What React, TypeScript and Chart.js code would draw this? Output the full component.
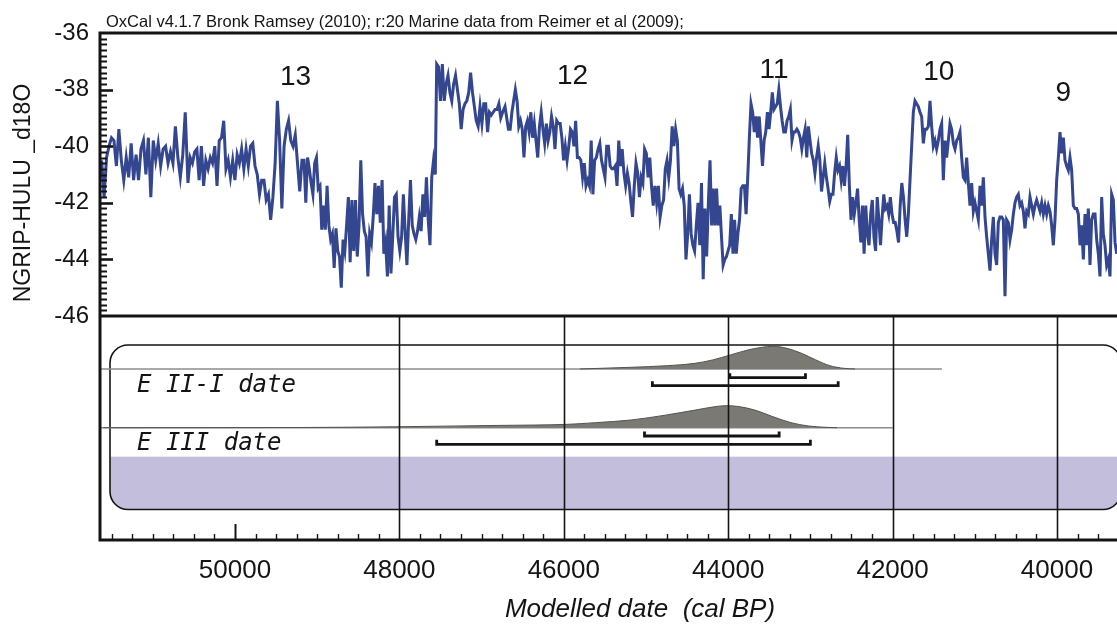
import React, { useEffect, useRef } from 'react';
import { Chart, registerables } from 'chart.js';

Chart.register(...registerables);

// ---------------- data ----------------
const X_MAX_YEAR = 51642;
const X_MIN_YEAR = 39270;
const xTickYears = [50000, 48000, 46000, 44000, 42000, 40000];
const yTickValues = [-36, -38, -40, -42, -44, -46];

// NGRIP-HULU d18O record, in consecutive pieces
const spanA1 = [51622, 50605];
const d18oA1 = [-40.5, -41.8, -40.4, -40.0, -39.7, -39.8, -40.7, -39.4, -40.5, -41.2, -40.4, -41.1, -39.9, -41.2, -40.3, -41.2, -40.1, -39.8, -41.0, -39.7, -41.8, -39.8, -40.5, -39.9, -40.7, -40.1, -40.0, -40.6, -40.2, -40.6, -39.3, -40.4, -41.1, -40.3, -38.8];
const spanA2 = [50572, 49185];
const d18oA2 = [-41.3, -40.4, -40.6, -40.2, -40.1, -41.2, -40.0, -41.4, -40.5, -40.8, -40.4, -40.6, -40.0, -41.4, -39.8, -39.7, -39.1, -40.8, -40.5, -41.1, -40.5, -41.2, -40.3, -40.6, -40.1, -40.8, -40.1, -40.7, -40.0, -39.9, -40.7, -41.0, -41.7, -41.2, -41.2, -41.9, -41.7, -42.6, -41.8, -40.6, -38.4, -39.8, -42.2, -40.0, -39.4, -39.1, -39.8, -40.0, -39.6, -40.6, -41.6, -40.5];
const spanB1 = [49160, 47563];
const d18oB1 = [-40.5, -42.0, -40.4, -40.8, -41.3, -41.7, -40.6, -40.4, -41.5, -41.4, -42.95, -42.1, -42.95, -41.4, -42.8, -43.3, -43.1, -44.3, -42.9, -43.7, -43.9, -45.0, -43.3, -43.7, -42.8, -41.8, -44.1, -41.9, -43.7, -41.9, -43.9, -42.8, -40.5, -42.4, -43.0, -43.2, -44.6, -43.1, -43.4, -42.5, -41.3, -42.4, -41.4, -42.7, -41.2, -43.8, -43.4, -44.6, -42.1, -44.5, -43.2, -41.8, -41.7, -43.2, -43.7, -43.2, -41.7, -43.0, -44.2, -42.6, -41.2, -42.8, -43.1, -43.3, -43.0, -42.5, -43.0, -41.7, -42.5, -41.1, -42.6, -43.5, -41.1, -40.5, -41.0];
const spanB2 = [47546, 46744];
const d18oB2 = [-37.1, -37.2, -38.4, -37.1, -38.4, -37.8, -37.5, -38.1, -38.4, -37.8, -37.5, -38.0, -38.5, -39.4, -38.7, -38.5, -38.4, -38.1, -37.4, -38.1, -38.6, -39.1, -39.3, -38.6, -39.2, -38.5, -38.5, -39.5, -38.8, -38.9, -38.8, -38.7, -38.7, -38.5, -39.0, -38.8];
const spanC = [46715, 44241];
const d18oC = [-38.6, -39.0, -39.4, -39.4, -38.8, -38.4, -38.0, -38.4, -39.3, -39.1, -39.4, -40.4, -39.3, -39.1, -39.5, -38.8, -39.7, -39.2, -39.8, -40.4, -39.3, -38.8, -39.4, -39.9, -39.2, -39.8, -39.5, -38.95, -39.3, -40.1, -39.1, -39.2, -39.2, -39.7, -40.5, -40.0, -40.5, -40.0, -39.4, -39.5, -40.0, -39.1, -40.4, -40.4, -40.5, -41.1, -40.6, -41.4, -41.2, -41.4, -39.8, -41.7, -40.5, -40.4, -40.1, -39.9, -40.5, -40.8, -41.1, -40.0, -40.0, -40.7, -40.8, -40.8, -40.7, -41.4, -39.8, -40.7, -40.1, -40.95, -41.4, -40.95, -41.3, -41.95, -42.5, -41.4, -40.6, -40.95, -41.8, -41.1, -41.3, -40.1, -40.25, -41.1, -40.4, -41.4, -42.1, -41.4, -42.0, -41.4, -42.5, -42.1, -41.9, -40.8, -40.5, -41.1, -40.5, -39.3, -40.0, -39.4, -39.8, -41.5, -41.7, -41.5, -42.1, -44.0, -43.1, -41.7, -43.1, -43.5, -43.7, -42.8, -42.0, -43.5, -41.3, -44.7, -42.2, -43.9, -42.0];
const spanD = [44221, 41808];
const d18oD = [-40.5, -42.8, -41.5, -42.8, -41.5, -42.8, -42.1, -43.2, -44.2, -44.0, -43.9, -43.7, -43.5, -42.4, -43.8, -42.6, -43.8, -43.1, -42.6, -41.5, -41.4, -41.4, -42.4, -41.1, -39.7, -38.5, -38.8, -39.5, -38.95, -39.7, -38.95, -39.8, -40.7, -39.8, -39.5, -38.8, -39.4, -38.8, -38.1, -38.7, -38.6, -38.5, -38.0, -38.6, -39.1, -39.5, -39.5, -39.1, -38.95, -38.7, -39.8, -39.5, -39.5, -39.4, -39.5, -39.7, -40.1, -39.7, -39.4, -40.4, -39.3, -39.8, -40.25, -40.5, -40.95, -40.4, -40.0, -40.5, -41.6, -41.1, -40.6, -41.1, -41.5, -41.95, -41.7, -41.7, -40.95, -40.4, -40.85, -40.7, -41.2, -40.7, -41.4, -40.7, -39.6, -41.4, -42.6, -41.8, -42.4, -42.0, -41.5, -42.6, -43.4, -42.1, -43.8, -42.1, -43.1, -43.5, -42.4, -41.9, -43.2, -43.7, -41.8, -42.6, -43.5, -42.5, -41.7, -42.2, -42.1, -42.4, -41.8, -42.4, -42.7, -42.7, -43.0, -43.4, -42.1, -41.3, -41.8, -42.6, -43.2, -42.4];
const spanE = [41768, 39274];
const d18oE = [-40.0, -38.8, -38.4, -38.5, -38.6, -38.8, -38.95, -39.9, -39.4, -39.4, -39.3, -38.4, -39.3, -40.0, -39.8, -40.1, -39.8, -39.4, -39.2, -41.2, -39.8, -40.4, -39.8, -39.2, -39.4, -39.9, -40.1, -39.8, -39.7, -39.5, -40.4, -41.1, -41.2, -40.4, -41.3, -42.1, -41.3, -42.3, -42.0, -42.3, -42.6, -41.4, -42.1, -41.1, -42.5, -43.2, -43.8, -44.4, -43.3, -42.5, -43.8, -44.2, -42.7, -42.5, -42.5, -42.6, -45.3, -42.6, -42.7, -43.3, -42.95, -42.4, -42.0, -41.8, -41.7, -42.1, -42.0, -42.3, -42.9, -42.3, -42.4, -41.8, -42.1, -42.4, -42.1, -41.9, -42.1, -42.3, -42.0, -42.4, -42.1, -42.4, -42.1, -42.3, -42.8, -43.5, -42.6, -41.2, -40.4, -39.5, -40.25, -39.7, -40.5, -40.7, -40.85, -40.4, -40.85, -42.1, -42.2, -42.2, -42.4, -43.5, -42.8, -44.0, -42.4, -43.5, -42.2, -44.2, -42.6, -42.4, -42.4, -43.3, -43.8, -44.6, -41.8, -43.1, -43.5, -44.2, -44.0, -44.6, -41.7, -41.9, -43.4, -43.8];

// Interstadial numbers
const eventLabels = ['13', '12', '11', '10', '9'];
const eventYears = [49264, 45894, 43443, 41438, 39923];
const eventLevels = [-37.48, -37.44, -37.22, -37.31, -38.04];

// Modelled date distributions (relative probability)
const eIIYears = [45803, 45182, 44749, 44404, 44189, 43972, 43759, 43583, 43455, 43285, 43107, 42934, 42762, 42591, 42457];
const eIIDensity = [0, 0.075, 0.145, 0.25, 0.4, 0.62, 0.84, 0.96, 1.0, 0.91, 0.69, 0.4, 0.145, 0.03, 0];
const eIIIYears = [51600, 49209, 47993, 46776, 45946, 45614, 45182, 44749, 44404, 44189, 44039, 43886, 43674, 43455, 43236, 43021, 42810, 42676];
const eIIIDensity = [0, 0.01, 0.045, 0.105, 0.155, 0.23, 0.35, 0.58, 0.8, 0.94, 1.0, 0.97, 0.8, 0.5, 0.23, 0.077, 0.018, 0];
const eIIPrior = [51642, 41400];
const eIIIPrior = [51642, 42000];
const eIIRange68 = [43980, 43060];
const eIIRange95 = [44922, 42662];
const eIIIRange68 = [45018, 43380];
const eIIIRange95 = [47546, 43000];
const rowLabels = ['E II-I date', 'E III date'];

// ---------------- layout (lower panel units: 0 top .. 10 bottom) ----------------
const ROW1_BASE = 2.366, ROW1_H = 1.013, ROW1_R68 = 2.754, ROW1_R95 = 3.112, ROW1_LABEL = 3.38;
const ROW2_BASE = 4.987, ROW2_H = 0.982, ROW2_R68 = 5.357, ROW2_R95 = 5.728, ROW2_LABEL = 5.98;
const HOOK = 0.2;
const BOX_TOP = 1.295, BOX_BOTTOM = 8.64, BAND_TOP = 6.28;

const FONT = "'Liberation Sans', Arial, Helvetica, sans-serif";
const INK = '#141414';

function buildSeries() {
  const pieces: [number[], number[]][] = [
    [spanA1, d18oA1], [spanA2, d18oA2], [spanB1, d18oB1], [spanB2, d18oB2],
    [spanC, d18oC], [spanD, d18oD], [spanE, d18oE],
  ];
  const pts: { x: number; y: number }[] = [];
  for (const [span, vals] of pieces) {
    const n = vals.length;
    for (let i = 0; i < n; i++) {
      pts.push({ x: span[0] + ((span[1] - span[0]) * i) / (n - 1), y: vals[i] });
    }
  }
  return pts;
}

function distPoints(years: number[], dens: number[], base: number, h: number) {
  return years.map((yr, i) => ({ x: yr, y: base - dens[i] * h }));
}
function bracket(range: number[], level: number) {
  return [
    { x: range[0], y: level - HOOK },
    { x: range[0], y: level },
    { x: range[1], y: level },
    { x: range[1], y: level - HOOK },
  ];
}

function roundRect(ctx: CanvasRenderingContext2D, x: number, y: number, w: number, h: number, r: number) {
  ctx.beginPath();
  ctx.moveTo(x + r, y);
  ctx.lineTo(x + w - r, y);
  ctx.arcTo(x + w, y, x + w, y + r, r);
  ctx.lineTo(x + w, y + h - r);
  ctx.arcTo(x + w, y + h, x + w - r, y + h, r);
  ctx.lineTo(x + r, y + h);
  ctx.arcTo(x, y + h, x, y + h - r, r);
  ctx.lineTo(x, y + r);
  ctx.arcTo(x, y, x + r, y, r);
  ctx.closePath();
}

const decorPlugin = {
  id: 'decor',
  beforeDatasetsDraw(chart: any) {
    const { ctx, chartArea, scales } = chart;
    const yl = scales.yLow;
    const left = chartArea.left + 10;
    const right = chartArea.right + 4;
    const top = yl.getPixelForValue(BOX_TOP);
    const bottom = yl.getPixelForValue(BOX_BOTTOM);
    const bandTop = yl.getPixelForValue(BAND_TOP);
    ctx.save();
    roundRect(ctx, left, top, right - left, bottom - top, 18);
    ctx.save();
    ctx.clip();
    ctx.fillStyle = '#c2bedc';
    ctx.fillRect(left, bandTop, right - left, bottom - bandTop);
    ctx.restore();
    ctx.lineWidth = 1.6;
    ctx.strokeStyle = INK;
    ctx.stroke();
    ctx.restore();
  },
  afterDatasetsDraw(chart: any) {
    const { ctx, chartArea, scales } = chart;
    const x = scales.x, y = scales.y, yl = scales.yLow;
    const L = chartArea.left, R = chartArea.right, T = chartArea.top, B = chartArea.bottom;
    const mid = y.bottom;
    ctx.save();
    ctx.strokeStyle = INK;
    // grid lines in lower panel
    ctx.lineWidth = 1.6;
    for (const v of xTickYears) {
      if (v === 50000) continue;
      const px = Math.round(x.getPixelForValue(v)) + 0.5;
      ctx.beginPath();
      ctx.moveTo(px, yl.top);
      ctx.lineTo(px, B);
      ctx.stroke();
    }
    // major tick at 50000
    ctx.lineWidth = 2;
    {
      const px = Math.round(x.getPixelForValue(50000)) + 0.5;
      ctx.beginPath();
      ctx.moveTo(px, B);
      ctx.lineTo(px, B - 16);
      ctx.stroke();
    }
    // minor x ticks
    ctx.lineWidth = 1.4;
    for (let v = 39500; v <= 51500; v += 250) {
      if (v % 2000 === 0) continue;
      const px = Math.round(x.getPixelForValue(v)) + 0.5;
      ctx.beginPath();
      ctx.moveTo(px, B);
      ctx.lineTo(px, B - 6);
      ctx.stroke();
    }
    // y ticks
    for (let k = 1; k < 50; k++) {
      const v = -46 + 0.2 * k;
      const py = Math.round(y.getPixelForValue(v)) + 0.5;
      const major = k % 10 === 0;
      ctx.lineWidth = major ? 2.6 : 2;
      ctx.beginPath();
      ctx.moveTo(L, py);
      ctx.lineTo(L + (major ? 13 : 7), py);
      ctx.stroke();
    }
    // frame
    ctx.lineWidth = 3;
    ctx.beginPath();
    ctx.moveTo(L, T);
    ctx.lineTo(R, T);
    ctx.moveTo(L, mid);
    ctx.lineTo(R, mid);
    ctx.moveTo(L, B);
    ctx.lineTo(R, B);
    ctx.moveTo(L, T - 1.5);
    ctx.lineTo(L, B + 1.5);
    ctx.stroke();
    ctx.restore();
  },
  afterDraw(chart: any) {
    const { ctx, scales } = chart;
    const x = scales.x, y = scales.y, yl = scales.yLow;
    ctx.save();
    ctx.fillStyle = INK;
    // header
    ctx.font = `16.5px ${FONT}`;
    ctx.textAlign = 'left';
    ctx.textBaseline = 'alphabetic';
    ctx.fillText('OxCal v4.1.7 Bronk Ramsey (2010); r:20 Marine data from Reimer et al (2009);', 106, 27);
    // y title
    ctx.save();
    ctx.translate(30, 193);
    ctx.rotate(-Math.PI / 2);
    ctx.font = `23px ${FONT}`;
    ctx.textAlign = 'center';
    ctx.fillText('NGRIP-HULU _d18O', 0, 0);
    ctx.restore();
    // x title
    ctx.font = `italic 26px ${FONT}`;
    ctx.textAlign = 'center';
    ctx.fillText('Modelled date  (cal BP)', 640, 617);
    // event numbers
    ctx.font = `28px ${FONT}`;
    eventLabels.forEach((t, i) => {
      ctx.fillText(t, x.getPixelForValue(eventYears[i]), y.getPixelForValue(eventLevels[i]) + 10);
    });
    // row labels
    ctx.font = `italic 24px 'DejaVu Sans Mono', monospace`;
    ctx.textAlign = 'left';
    ctx.fillText(rowLabels[0], 137, yl.getPixelForValue(ROW1_LABEL));
    ctx.fillText(rowLabels[1], 137, yl.getPixelForValue(ROW2_LABEL));
    ctx.restore();
  },
};

export default function App() {
  const ref = useRef<HTMLCanvasElement | null>(null);
  useEffect(() => {
    if (!ref.current) return;
    Chart.defaults.font.family = FONT;
    const distCommon = {
      yAxisID: 'yLow',
      pointRadius: 0,
      borderWidth: 1,
      borderColor: '#55534f',
      backgroundColor: '#7b7974',
      cubicInterpolationMode: 'monotone' as const,
    };
    const lineCommon = { yAxisID: 'yLow', pointRadius: 0, fill: false, tension: 0 };
    const chart = new Chart(ref.current, {
      type: 'line',
      data: {
        datasets: [
          {
            label: 'NGRIP-HULU d18O',
            data: buildSeries(),
            yAxisID: 'y',
            borderColor: '#33468f',
            borderWidth: 3,
            pointRadius: 0,
            tension: 0,
            fill: false,
            order: 1,
          },
          { ...lineCommon, label: 'E II 95', data: bracket(eIIRange95, ROW1_R95), borderColor: INK, borderWidth: 2.8, order: 2 },
          { ...lineCommon, label: 'E II 68', data: bracket(eIIRange68, ROW1_R68), borderColor: INK, borderWidth: 2.8, order: 2 },
          { ...lineCommon, label: 'E III 95', data: bracket(eIIIRange95, ROW2_R95), borderColor: INK, borderWidth: 2.8, order: 2 },
          { ...lineCommon, label: 'E III 68', data: bracket(eIIIRange68, ROW2_R68), borderColor: INK, borderWidth: 2.8, order: 2 },
          { ...distCommon, label: 'E II-I date', data: distPoints(eIIYears, eIIDensity, ROW1_BASE, ROW1_H), fill: { value: ROW1_BASE }, order: 3 },
          { ...distCommon, label: 'E III date', data: distPoints(eIIIYears, eIIIDensity, ROW2_BASE, ROW2_H), fill: { value: ROW2_BASE }, order: 3 },
          { ...lineCommon, label: 'prior II', data: eIIPrior.map((v) => ({ x: v, y: ROW1_BASE })), borderColor: '#8c8c8c', borderWidth: 1.5, order: 4 },
          { ...lineCommon, label: 'prior III', data: eIIIPrior.map((v) => ({ x: v, y: ROW2_BASE })), borderColor: '#8c8c8c', borderWidth: 1.5, order: 4 },
        ],
      },
      options: {
        responsive: false,
        animation: false,
        devicePixelRatio: 1,
        events: [],
        layout: { padding: { top: 33, left: 0, right: 0, bottom: 0 } },
        plugins: { legend: { display: false }, tooltip: { enabled: false }, title: { display: false } },
        scales: {
          x: {
            type: 'linear',
            position: 'bottom',
            min: X_MIN_YEAR,
            max: X_MAX_YEAR,
            reverse: true,
            grid: { display: false, drawTicks: false },
            border: { display: false },
            afterBuildTicks: (s: any) => {
              s.ticks = xTickYears.map((v) => ({ value: v }));
            },
            afterFit: (s: any) => {
              s.height = 85;
              s.paddingLeft = 0;
              s.paddingRight = 0;
            },
            ticks: {
              autoSkip: false,
              maxRotation: 0,
              padding: 15,
              color: INK,
              font: { size: 26, family: FONT },
              callback: (v: any) => String(v),
            },
          },
          yLow: {
            type: 'linear',
            position: 'left',
            stack: 'v',
            stackWeight: 224,
            min: 0,
            max: 10,
            reverse: true,
            grid: { display: false, drawTicks: false },
            border: { display: false },
            ticks: { display: false },
            afterFit: (s: any) => {
              s.width = 100;
              s.paddingTop = 0;
              s.paddingBottom = 0;
            },
          },
          y: {
            type: 'linear',
            position: 'left',
            stack: 'v',
            stackWeight: 283,
            min: -46,
            max: -36,
            grid: { display: false, drawTicks: false },
            border: { display: false },
            afterBuildTicks: (s: any) => {
              s.ticks = yTickValues.map((v) => ({ value: v }));
            },
            afterFit: (s: any) => {
              s.width = 100;
              s.paddingTop = 0;
              s.paddingBottom = 0;
            },
            ticks: {
              padding: 11,
              color: INK,
              font: { size: 24, family: FONT },
              callback: (v: any) => String(v),
            },
          },
        },
      },
      plugins: [decorPlugin],
    } as any);
    return () => chart.destroy();
  }, []);
  return (
    <div style={{ position: 'absolute', left: 0, top: 0, width: 1117, height: 625, background: '#ffffff', overflow: 'hidden' }}>
      <canvas ref={ref} width={1117} height={625} style={{ display: 'block' }} />
    </div>
  );
}
